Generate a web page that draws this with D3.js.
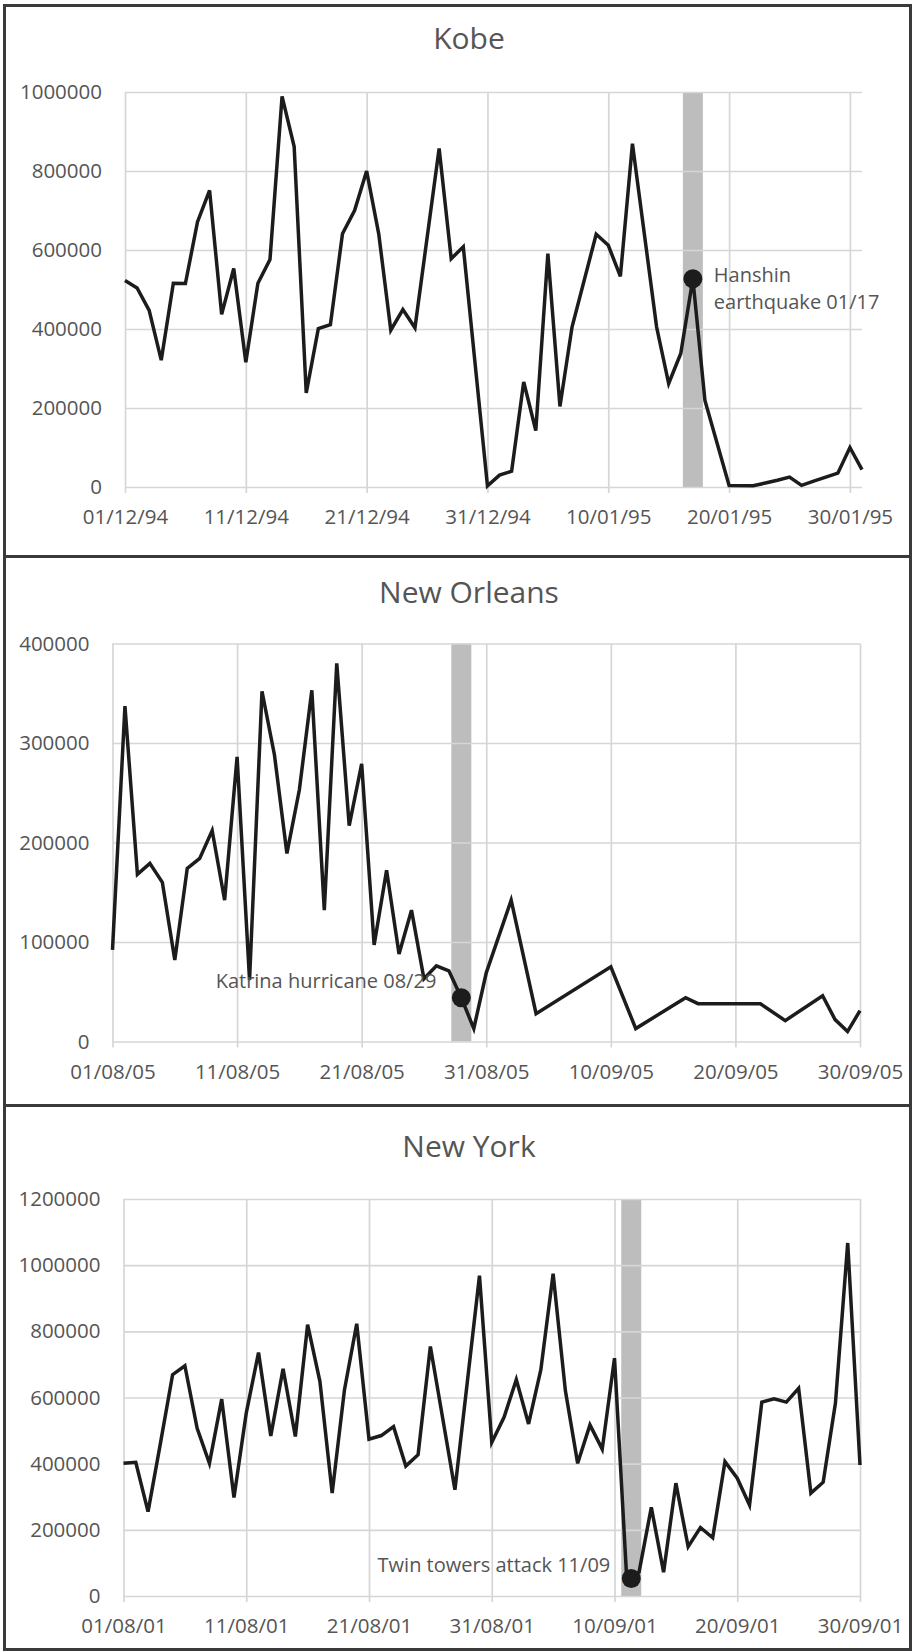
<!DOCTYPE html>
<html><head><meta charset="utf-8">
<script src="https://cdn.jsdelivr.net/npm/d3@7/dist/d3.min.js"></script>
<style>body{margin:0;background:#fff}svg{display:block}</style>
</head><body>
<svg id="c" width="913" height="1652"></svg>
<script>
// ---------------- DATA ----------------
const kobeDates = ["01/12/94","02/12/94","03/12/94","04/12/94","05/12/94","06/12/94","07/12/94","08/12/94","09/12/94","10/12/94",
 "11/12/94","12/12/94","13/12/94","14/12/94","15/12/94","16/12/94","17/12/94","18/12/94","19/12/94","20/12/94",
 "21/12/94","22/12/94","23/12/94","24/12/94","25/12/94","27/12/94","28/12/94","29/12/94","31/12/94",
 "01/01/95","02/01/95","03/01/95","04/01/95","05/01/95","06/01/95","07/01/95","09/01/95","10/01/95",
 "11/01/95","12/01/95","14/01/95","15/01/95","16/01/95","17/01/95","18/01/95","20/01/95","22/01/95",
 "23/01/95","24/01/95","25/01/95","26/01/95","27/01/95","28/01/95","29/01/95","30/01/95","31/01/95"];
const kobeValues = [523000,504000,447000,321000,516000,515000,671000,751000,437000,553000,
 316000,516000,576000,989000,862000,238000,401000,411000,641000,700000,
 800000,641000,397000,449000,403000,857000,578000,608000,3000,
 30000,40000,266000,143000,591000,204000,405000,640000,612000,
 533000,869000,405000,262000,338000,527000,219000,4000,3000,
 10000,17000,25000,4000,15000,25000,35000,100000,44000];
const kobeXTicks = ["01/12/94","11/12/94","21/12/94","31/12/94","10/01/95","20/01/95","30/01/95"];
const kobeYTicks = [0,200000,400000,600000,800000,1000000];

const noDates = ["01/08/05","02/08/05","03/08/05","04/08/05","05/08/05","06/08/05","07/08/05","08/08/05","09/08/05","10/08/05",
 "11/08/05","12/08/05","13/08/05","14/08/05","15/08/05","16/08/05","17/08/05","18/08/05","19/08/05","20/08/05",
 "21/08/05","22/08/05","23/08/05","24/08/05","25/08/05","26/08/05","27/08/05","28/08/05","29/08/05","30/08/05",
 "31/08/05","02/09/05","04/09/05","10/09/05","12/09/05","16/09/05","17/09/05","22/09/05","24/09/05",
 "27/09/05","28/09/05","29/09/05","30/09/05"];
const noValues = [92000,337000,168000,179000,160000,82000,174000,184000,212000,142000,
 286000,62000,352000,288000,189000,253000,353000,132000,380000,217000,
 279000,97000,172000,88000,132000,63000,76000,71000,44000,13000,
 69000,142000,28000,75000,13000,44000,38000,38000,21000,
 46000,22000,10000,31000];
const noXTicks = ["01/08/05","11/08/05","21/08/05","31/08/05","10/09/05","20/09/05","30/09/05"];
const noYTicks = [0,100000,200000,300000,400000];

const nyDates = ["01/08/01","02/08/01","03/08/01","04/08/01","05/08/01","06/08/01","07/08/01","08/08/01","09/08/01","10/08/01",
 "11/08/01","12/08/01","13/08/01","14/08/01","15/08/01","16/08/01","17/08/01","18/08/01","19/08/01","20/08/01",
 "21/08/01","22/08/01","23/08/01","24/08/01","25/08/01","26/08/01","27/08/01","28/08/01","29/08/01","30/08/01",
 "31/08/01","01/09/01","02/09/01","03/09/01","04/09/01","05/09/01","06/09/01","07/09/01","08/09/01","09/09/01",
 "10/09/01","11/09/01","12/09/01","13/09/01","14/09/01","15/09/01","16/09/01","17/09/01","18/09/01","19/09/01",
 "20/09/01","21/09/01","22/09/01","23/09/01","24/09/01","25/09/01","26/09/01","27/09/01","28/09/01","29/09/01","30/09/01"];
const nyValues = [401000,404000,255000,460000,669000,696000,507000,401000,595000,298000,
 553000,736000,484000,687000,482000,820000,649000,311000,623000,823000,
 474000,485000,512000,393000,427000,754000,538000,321000,644000,968000,
 464000,540000,654000,520000,684000,974000,620000,401000,517000,444000,
 719000,50000,72000,268000,72000,341000,149000,207000,176000,406000,
 356000,275000,586000,596000,586000,628000,311000,344000,583000,1067000,396000];
const nyXTicks = ["01/08/01","11/08/01","21/08/01","31/08/01","10/09/01","20/09/01","30/09/01"];
const nyYTicks = [0,200000,400000,600000,800000,1000000,1200000];

const titles = ["Kobe","New Orleans","New York"];
const eventDates = ["17/01/95 00:00","29/08/05 00:00","11/09/01 08:46"];
const eventValues = [527000,44000,53000];
const eventLabels = [["Hanshin","earthquake 01/17"],["Katrina hurricane 08/29"],["Twin towers attack 11/09"]];
const domainStart = ["01/12/94","01/08/05","01/08/01"];
const domainEnd = ["31/01/95","30/09/05","30/09/01"];

// ---------------- LAYOUT / STYLE ----------------
const FONT = "'Open Sans', sans-serif";
const TXT = "#555555";
const parse = d3.timeParse("%d/%m/%y");
const parseT = d3.timeParse("%d/%m/%y %H:%M");
const fmt = d3.timeFormat("%d/%m/%y");

const panels = [
  {dates:kobeDates, values:kobeValues, xt:kobeXTicks, yt:kobeYTicks, yMax:1000000,
   titleY:49, top:92, bottom:487, left:125, right:862,
   label:{dx:21, dy:[3,30], anchor:"start"}},
  {dates:noDates, values:noValues, xt:noXTicks, yt:noYTicks, yMax:400000,
   titleY:603, top:643.5, bottom:1041.5, left:112.5, right:860,
   label:{dx:-25, dy:[-10], anchor:"end"}},
  {dates:nyDates, values:nyValues, xt:nyXTicks, yt:nyYTicks, yMax:1200000,
   titleY:1156.5, top:1199, bottom:1596, left:123.5, right:860,
   label:{dx:-21, dy:[-6], anchor:"end"}}
];

const svg = d3.select("#c");
svg.append("rect").attr("width",913).attr("height",1652).attr("fill","#fff");

panels.forEach((p, k) => {
  const g = svg.append("g");
  const x = d3.scaleTime().domain([parse(domainStart[k]), parse(domainEnd[k])]).range([p.left, p.right]);
  const y = d3.scaleLinear().domain([0, p.yMax]).range([p.bottom, p.top]);
  const pts = p.dates.map((d,i)=>({t:parse(d), v:p.values[i]}));
  const ev = {t:parseT(eventDates[k]), v:eventValues[k]};

  // title
  g.append("text").attr("x",469).attr("y",p.titleY).attr("text-anchor","middle")
    .attr("font-family",FONT).attr("font-size",30).attr("fill",TXT).text(titles[k]);

  // event band
  const ex = x(ev.t);
  g.append("rect").attr("x",ex-10).attr("y",p.top).attr("width",20).attr("height",p.bottom-p.top)
    .attr("fill","#bdbdbd");

  // horizontal gridlines + y labels via axis
  const yAxis = d3.axisLeft(y).tickValues(p.yt).tickSize(-(p.right-p.left)).tickPadding(23).tickFormat(d3.format("d"));
  const ya = g.append("g").attr("transform",`translate(${p.left},0)`).call(yAxis);
  ya.select(".domain").remove();
  ya.selectAll(".tick line").attr("stroke","#d6d6d6").attr("stroke-width",1.7);
  ya.selectAll(".tick text").attr("font-family",FONT).attr("font-size",20.5).attr("fill",TXT);

  // vertical gridlines + x labels
  const xAxis = d3.axisBottom(x).tickValues(p.xt.map(parse)).tickSize(-(p.bottom-p.top)-6).tickPadding(-8).tickFormat(fmt);
  const xa = g.append("g").attr("transform",`translate(0,${p.bottom+6})`).call(xAxis);
  xa.select(".domain").remove();
  xa.selectAll(".tick line").attr("stroke","#d6d6d6").attr("stroke-width",1.7);
  xa.selectAll(".tick text").attr("font-family",FONT).attr("font-size",20.5).attr("fill",TXT)
    .attr("y",null).attr("dy",null).attr("transform","translate(0,31)");

  // line
  const line = d3.line().x(d=>x(d.t)).y(d=>y(d.v));
  g.append("path").datum(pts).attr("d",line).attr("fill","none").attr("stroke","#1c1c1c")
    .attr("stroke-width",3.5).attr("stroke-linejoin","miter").attr("stroke-miterlimit",4);

  // event dot
  const ey = y(ev.v);
  g.append("circle").attr("cx",ex).attr("cy",ey).attr("r",9.5).attr("fill","#1c1c1c");
  eventLabels[k].forEach((s,j)=>{
    g.append("text").attr("x",ex+p.label.dx).attr("y",ey+p.label.dy[j]).attr("text-anchor",p.label.anchor)
      .attr("font-family",FONT).attr("font-size",20).attr("fill",TXT).text(s);
  });
});

// frame and separators
svg.append("rect").attr("x",4.5).attr("y",5.5).attr("width",906).attr("height",1644)
  .attr("fill","none").attr("stroke","#3a3a3a").attr("stroke-width",3);
[556.5,1105.5].forEach(yy=>svg.append("line").attr("x1",4).attr("x2",911).attr("y1",yy).attr("y2",yy)
  .attr("stroke","#3a3a3a").attr("stroke-width",3));
</script>
</body></html>
